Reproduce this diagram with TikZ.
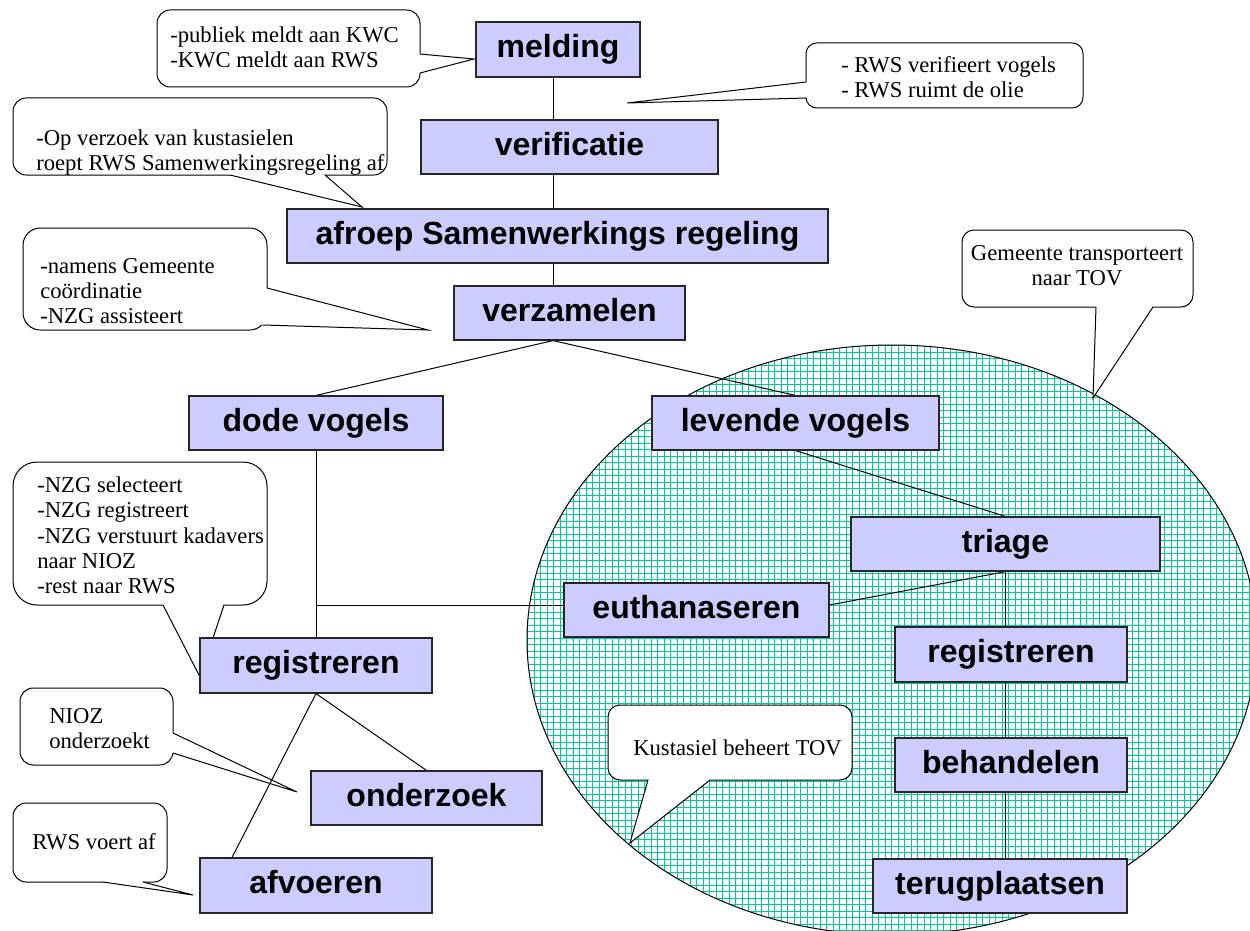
\documentclass[tikz,border=0pt]{standalone}
\usepackage{fontspec}
\setmainfont{Liberation Serif}
\newfontfamily\bxfont{Liberation Sans}
\usetikzlibrary{calc}
\definecolor{boxfill}{RGB}{204,204,255}
\definecolor{gridc}{RGB}{0,204,153}
\pgfdeclarelayer{back}
\pgfdeclarelayer{conn}
\pgfsetlayers{back,conn,main}
\tikzset{
  box/.style={draw=black!85, line width=0.9pt, fill=boxfill, inner sep=0pt,
    font=\fontsize{24}{28}\selectfont\bxfont\bfseries, text height=17.5pt, text depth=5pt},
  link/.style={draw=black, line width=0.75pt},
  cbox/.style={draw=black, line width=0.75pt, fill=white},
  ctext/.style={font=\fontsize{17}{19}\selectfont, align=left, inner sep=0pt, anchor=west},
}
% box: name, x1, y1, x2, y2, text (pixel units)
\newcommand\mybox[6]{%
  \node[box, minimum width={(#4-#2)*0.75pt}, minimum height={(#5-#3)*0.75pt}]
    (#1) at ({(#2+#4)/2},{(#3+#5)/2}) {#6};}
% rect corner, rect corner, radius, base1, tip, base2
\newcommand\mycallout[6]{%
  \filldraw[cbox, rounded corners=#3] (#1) rectangle (#2);
  \fill[white] (#4) -- (#5) -- (#6) -- ($(#1)!0.5!(#2)$) -- cycle;
  \draw[link, line join=miter] (#4) -- (#5) -- (#6);
}
\begin{document}
\begin{tikzpicture}[x=0.75pt,y=-0.75pt]
\useasboundingbox (0,0) rectangle (1250,931);
\begin{pgfonlayer}{back}
\fill[white] (0,0) rectangle (1250,931);
% ellipse with grid
\begin{scope}
  \clip (892,640) ellipse [x radius=273.75pt, y radius=221.25pt];
  \fill[white] (520,340) rectangle (1260,940);
  \foreach \gx in {527.5,534,...,1260} \draw[gridc, line width=0.75pt] (\gx,340) -- (\gx,940);
  \foreach \gy in {345.5,352,...,940} \draw[gridc, line width=0.75pt] (520,\gy) -- (1260,\gy);
\end{scope}
\draw[line width=0.75pt] (892,640) ellipse [x radius=273.75pt, y radius=221.25pt];
% callouts
\mycallout{157,10}{420,87}{10pt}{420,54}{474,59}{420,73}
\node[ctext] (t1) at (170,47.5) {-publiek meldt aan KWC\\-KWC meldt aan RWS};
\mycallout{806,43}{1083,108}{8pt}{806,82}{627,103}{806,98}
\node[ctext] (t2) at (841,77.5) {- RWS verifieert vogels\\- RWS ruimt de olie};
\mycallout{13,98}{387,175}{10pt}{230,175}{362,207}{325,175}
\node[ctext] (t3) at (36,152.5) {-Op verzoek van kustasielen\\roept RWS Samenwerkingsregeling af};
\mycallout{23,228}{267,330}{13pt}{267,288}{428,330}{263,325}
\node[ctext] (t4) at (40,291) {-namens Gemeente\\coördinatie\\-NZG assisteert};
\mycallout{962,230}{1193,307}{9pt}{1096,307}{1093,398}{1153,307}
\node[ctext, align=center, anchor=center] (t5) at (1077,265.5) {Gemeente transporteert\\naar TOV};
\mycallout{13,462}{267,605}{18pt}{163,605}{200,677}{224,605}
\node[ctext] (t6) at (37,535.5) {-NZG selecteert\\-NZG registreert\\-NZG verstuurt kadavers\\naar NIOZ\\-rest naar RWS};
\mycallout{20,688}{173,765}{10pt}{173,733}{297,792}{173,753}
\node[ctext] (t7) at (49,728.5) {NIOZ\\onderzoekt};
\mycallout{13,803}{167,882}{10pt}{103,882}{193,895}{143,882}
\node[ctext] (t8) at (32,842) {RWS voert af};
\mycallout{608,705}{852,780}{9pt}{648,780}{630,843}{710,780}
\node[ctext] (t9) at (633,748) {Kustasiel beheert TOV};
\end{pgfonlayer}
% boxes
\mybox{melding}{476}{22}{640}{77}{melding}
\mybox{verificatie}{421}{120}{718}{174}{verificatie}
\mybox{afroep}{287}{209}{828}{263}{afroep Samenwerkings regeling}
\mybox{verzamelen}{454}{286}{685}{340}{verzamelen}
\mybox{dode}{189}{396}{443}{450}{dode vogels}
\mybox{levende}{652}{396}{939}{450}{levende vogels}
\mybox{triage}{851}{517}{1160}{571}{triage}
\mybox{euth}{564}{583}{829}{637}{euthanaseren}
\mybox{regL}{200}{638}{432}{693}{registreren}
\mybox{regR}{895}{627}{1127}{682}{registreren}
\mybox{behandelen}{895}{738}{1127}{792}{behandelen}
\mybox{onderzoek}{311}{771}{542}{825}{onderzoek}
\mybox{afvoeren}{200}{858}{432}{913}{afvoeren}
\mybox{terug}{873}{859}{1127}{913}{terugplaatsen}
% connectors
\begin{pgfonlayer}{conn}
\coordinate (trunk) at (553,0);
\coordinate (euthW) at ([yshift=3.75pt]euth.west);
\coordinate (euthE) at ([yshift=3.75pt]euth.east);
\draw[link] (melding.south -| trunk) -- (verificatie.north -| trunk);
\draw[link] (verificatie.south -| trunk) -- (afroep.north -| trunk);
\draw[link] (afroep.south -| trunk) -- (verzamelen.north -| trunk);
\draw[link] (verzamelen.south -| trunk) -- (dode.north);
\draw[link] (verzamelen.south -| trunk) -- (levende.north);
\draw[link] (levende.south) -- (triage.north);
\draw[link] (dode.south) -- (regL.north);
\draw[link] (dode.south |- euthW) -- (euthW);
\draw[link] (triage.south) -- (euthE);
\draw[link] (triage.south) -- (triage.south |- terug.north);
\draw[link] (regL.south) -- (onderzoek.north);
\draw[link] (regL.south) -- ($(afvoeren.north west)!0.14!(afvoeren.north east)$);
\end{pgfonlayer}
\end{tikzpicture}
\end{document}
